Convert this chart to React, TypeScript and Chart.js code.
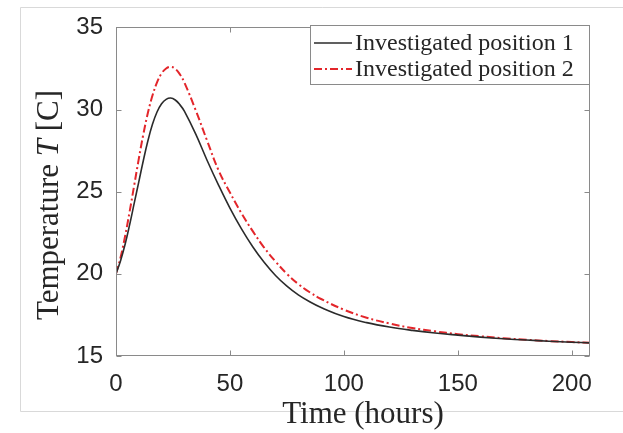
import React, { useEffect, useRef } from "react";
import { Chart, registerables } from "chart.js";

Chart.register(...registerables);

// ---- data ----
const times = [0, 2, 4, 6, 8, 10, 12, 14, 16, 18, 20, 22, 24, 26, 28, 30, 35, 40, 45, 50, 55, 60, 65, 70, 75, 80, 85, 90, 100, 110, 120, 130, 140, 150, 160, 170, 180, 190, 200, 208];
const position1 = [20.0, 20.8, 21.8, 23.0, 24.3, 25.6, 26.9, 28.1, 29.1, 29.85, 30.35, 30.62, 30.7, 30.58, 30.3, 29.9, 28.5, 26.9, 25.4, 24.0, 22.75, 21.65, 20.7, 19.9, 19.25, 18.72, 18.3, 17.95, 17.4, 17.03, 16.76, 16.56, 16.4, 16.27, 16.15, 16.05, 15.97, 15.9, 15.84, 15.8];
const position2 = [20.0, 21.0, 22.3, 23.8, 25.4, 27.0, 28.5, 29.8, 30.85, 31.65, 32.2, 32.5, 32.6, 32.48, 32.15, 31.65, 29.95, 28.1, 26.3, 24.95, 23.7, 22.6, 21.6, 20.75, 20.0, 19.38, 18.88, 18.47, 17.82, 17.33, 16.98, 16.7, 16.5, 16.33, 16.2, 16.08, 15.99, 15.91, 15.85, 15.8];
const seriesLabels = ["Investigated position 1", "Investigated position 2"];
const xTicks = [0, 50, 100, 150, 200];
const yTicks = [15, 20, 25, 30, 35];
const xRange = [0, 208];
const yRange = [15, 35];
const xTitle = "Time (hours)";
const yTitleParts = ["Temperature ", "T", " [C]"];

// ---- styles ----
const W = 623;
const H = 433;
const axisColor = "#8a8a8a";
const textColor = "#262626";
const serif = '"Liberation Serif", "Times New Roman", serif';
const sans = '"Liberation Sans", Arial, sans-serif';

const decorPlugin = {
  id: "decor",
  beforeDraw(chart: any) {
    const ctx = chart.ctx;
    ctx.save();
    ctx.fillStyle = "#ffffff";
    ctx.fillRect(0, 0, W, H);
    ctx.strokeStyle = "#d9d9d9";
    ctx.lineWidth = 1;
    ctx.beginPath();
    ctx.moveTo(W + 5, 7.5);
    ctx.lineTo(20.5, 7.5);
    ctx.lineTo(20.5, 411.5);
    ctx.lineTo(W + 5, 411.5);
    ctx.stroke();
    ctx.restore();
  },
  afterDraw(chart: any) {
    const ctx = chart.ctx;
    const a = chart.chartArea;
    const xs = chart.scales.x;
    const ys = chart.scales.y;
    ctx.save();
    // axes box
    ctx.strokeStyle = axisColor;
    ctx.lineWidth = 1;
    const L = Math.round(a.left) + 0.5;
    const R = Math.round(a.right) - 0.5;
    const T = Math.round(a.top) + 0.5;
    const B = Math.round(a.bottom) - 0.5;
    ctx.strokeRect(L, T, R - L, B - T);
    // inward ticks on all sides
    const tl = 5;
    ctx.beginPath();
    xTicks.forEach((v) => {
      const px = Math.round(xs.getPixelForValue(v)) + 0.5;
      ctx.moveTo(px, B);
      ctx.lineTo(px, B - tl);
      ctx.moveTo(px, T);
      ctx.lineTo(px, T + tl);
    });
    yTicks.forEach((v) => {
      const py = Math.round(ys.getPixelForValue(v)) + 0.5;
      ctx.moveTo(L, py);
      ctx.lineTo(L + tl, py);
      ctx.moveTo(R, py);
      ctx.lineTo(R - tl, py);
    });
    ctx.stroke();

    // legend
    const lx = 310.5;
    const ly = 25.5;
    const lw = R - lx;
    const lh = 59;
    ctx.fillStyle = "#ffffff";
    ctx.fillRect(lx, ly, lw, lh);
    ctx.strokeStyle = axisColor;
    ctx.strokeRect(lx, ly, lw, lh);
    const rows = [43, 69];
    chart.data.datasets.forEach((ds: any, i: number) => {
      const yy = rows[i];
      ctx.save();
      ctx.strokeStyle = ds.borderColor;
      ctx.lineWidth = ds.borderWidth;
      ctx.setLineDash(ds.borderDash || []);
      ctx.beginPath();
      ctx.moveTo(314, yy);
      ctx.lineTo(352, yy);
      ctx.stroke();
      ctx.restore();
      ctx.fillStyle = textColor;
      ctx.font = `24px ${serif}`;
      ctx.textAlign = "left";
      ctx.textBaseline = "middle";
      ctx.fillText(ds.label, 355, yy + 1);
    });

    // x title
    ctx.fillStyle = textColor;
    ctx.font = `31px ${serif}`;
    ctx.textAlign = "center";
    ctx.textBaseline = "alphabetic";
    ctx.fillText(xTitle, (a.left + a.right) / 2 + 10, 423);

    // y title with italic T
    const fonts = [`31px ${serif}`, `italic 31px ${serif}`, `31px ${serif}`];
    const widths = yTitleParts.map((p, i) => {
      ctx.font = fonts[i];
      return ctx.measureText(p).width;
    });
    const total = widths.reduce((s, w) => s + w, 0);
    ctx.translate(58, 205);
    ctx.rotate(-Math.PI / 2);
    ctx.textAlign = "left";
    let cx = -total / 2;
    yTitleParts.forEach((p, i) => {
      ctx.font = fonts[i];
      ctx.fillText(p, cx, 0);
      cx += widths[i];
    });
    ctx.restore();
  },
};

export default function App() {
  const ref = useRef<HTMLCanvasElement | null>(null);
  useEffect(() => {
    document.body.style.margin = "0";
    const canvas = ref.current;
    if (!canvas) return;
    const chart = new Chart(canvas, {
      type: "scatter",
      data: {
        datasets: [
          {
            label: seriesLabels[0],
            data: times.map((t, i) => ({ x: t, y: position1[i] })),
            showLine: true,
            borderColor: "#2b2b2b",
            backgroundColor: "#2b2b2b",
            borderWidth: 1.6,
            pointRadius: 0,
            tension: 0.4,
          },
          {
            label: seriesLabels[1],
            data: times.map((t, i) => ({ x: t, y: position2[i] })),
            showLine: true,
            borderColor: "#e3262b",
            backgroundColor: "#e3262b",
            borderWidth: 2,
            borderDash: [8, 3, 2, 3],
            pointRadius: 0,
            tension: 0.4,
          },
        ],
      },
      options: {
        animation: false,
        responsive: false,
        devicePixelRatio: 1,
        layout: { padding: { left: 0, top: 22, right: 33, bottom: 0 } },
        plugins: { legend: { display: false }, tooltip: { enabled: false } },
        scales: {
          x: {
            type: "linear",
            min: xRange[0],
            max: xRange[1],
            grid: { display: false, drawTicks: false },
            border: { display: false },
            afterBuildTicks: (s: any) => {
              s.ticks = xTicks.map((v) => ({ value: v }));
            },
            afterFit: (s: any) => {
              s.height = 77;
            },
            ticks: {
              padding: 14,
              maxRotation: 0,
              autoSkip: false,
              color: textColor,
              font: { family: sans, size: 24 },
              callback: (v: any) => String(v),
            },
          },
          y: {
            type: "linear",
            min: yRange[0],
            max: yRange[1],
            grid: { display: false, drawTicks: false },
            border: { display: false },
            afterBuildTicks: (s: any) => {
              s.ticks = yTicks.map((v) => ({ value: v }));
            },
            afterFit: (s: any) => {
              s.width = 116;
            },
            ticks: {
              padding: 13,
              autoSkip: false,
              color: textColor,
              font: { family: sans, size: 24 },
              callback: (v: any) => String(v),
            },
          },
        },
      },
      plugins: [decorPlugin],
    } as any);
    return () => chart.destroy();
  }, []);
  return (
    <div style={{ position: "fixed", left: 0, top: 0, width: W, height: H, background: "#fff" }}>
      <canvas ref={ref} width={W} height={H} style={{ display: "block", width: W, height: H }} />
    </div>
  );
}
